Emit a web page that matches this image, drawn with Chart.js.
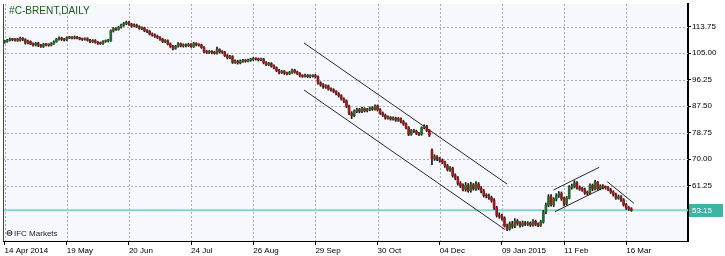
<!DOCTYPE html>
<html>
<head>
<meta charset="utf-8">
<script src="https://cdn.jsdelivr.net/npm/chart.js@4.4.0/dist/chart.umd.min.js"></script>
<style>
  html, body { margin: 0; padding: 0; background: #fff; }
  #wrap { width: 725px; height: 256px; }
</style>
</head>
<body>
<div id="wrap"><canvas id="chart" width="725" height="256"></canvas></div>
<script>
// Axis labels
const tickIdx = [0, 24, 48, 72, 96, 120, 144, 168, 192, 216, 240];
const tickText = ["14 Apr 2014", "19 May", "20 Jun", "24 Jul", "26 Aug", "29 Sep", "30 Oct", "04 Dec", "09 Jan 2015", "11 Feb", "16 Mar"];
const priceTicks = [61.25, 70, 78.75, 87.5, 96.25, 105, 113.75];
const lastPrice = 53.15;

// Daily candles (one per trading day, 14 Apr 2014 .. 18 Mar 2015)
const opens = [
    108.7, 108.9, 109.3, 109.6, 109.5, 109.4, 109.3, 109.9, 109.5, 108.4,
    108.9, 108.0, 107.7, 108.3, 107.6, 107.2, 107.9, 107.8, 107.7, 108.2,
    108.8, 109.6, 110.0, 109.6, 109.4, 110.1, 110.2, 110.0, 110.3, 110.0,
    109.7, 109.6, 109.8, 109.3, 108.8, 109.2, 108.6, 108.3, 108.2, 108.9,
    109.0, 109.2, 112.4, 113.1, 112.9, 113.6, 114.3, 114.8, 115.1, 114.6,
    114.0, 114.3, 113.8, 113.2, 113.3, 112.4, 112.2, 111.3, 111.0, 110.6,
    110.2, 109.6, 108.9, 109.1, 108.0, 107.3, 106.6, 107.3, 108.1, 107.4,
    107.7, 107.5, 107.9, 107.2, 108.2, 107.8, 107.7, 106.9, 105.6, 105.3,
    105.6, 105.2, 105.0, 106.2, 105.5, 105.3, 104.2, 103.5, 103.9, 102.0,
    102.4, 101.8, 102.4, 102.6, 102.4, 102.7, 102.9, 103.2, 103.1, 102.8,
    103.0, 101.9, 101.2, 101.6, 100.8, 100.2, 99.3, 98.6, 99.0, 98.4,
    98.2, 98.6, 99.4, 98.8, 98.3, 97.6, 97.4, 97.7, 97.3, 97.5,
    97.6, 97.2, 95.2, 94.6, 93.8, 94.2, 93.2, 92.9, 92.4, 91.6,
    91.0, 89.9, 89.2, 87.5, 85.2, 84.4, 85.9, 86.4, 85.8, 86.7,
    86.0, 86.4, 86.9, 86.5, 87.6, 86.3, 85.2, 84.5, 83.6, 83.8,
    83.3, 83.6, 82.9, 83.4, 82.4, 81.6, 80.4, 78.2, 79.4, 79.2,
    78.5, 78.2, 80.4, 80.9, 79.5, 73.0, 70.2, 70.8, 70.0, 69.6,
    69.0, 67.8, 66.6, 67.0, 64.6, 63.8, 62.0, 61.2, 60.0, 61.3,
    59.6, 61.5, 60.3, 61.8, 60.4, 59.5, 58.0, 57.9, 57.3, 56.4,
    54.0, 51.5, 51.2, 50.6, 48.0, 46.9, 48.7, 47.9, 49.6, 48.8,
    48.2, 49.0, 48.6, 48.9, 48.3, 49.5, 48.5, 48.2, 49.3, 52.6,
    54.8, 57.6, 55.0, 56.8, 58.0, 58.6, 57.0, 55.2, 57.2, 60.8,
    61.0, 62.2, 60.6, 60.2, 60.0, 58.9, 58.8, 61.4, 60.2, 62.4,
    60.3, 61.2, 60.7, 60.6, 60.0, 59.2, 58.3, 57.2, 57.6, 56.6,
    55.0, 54.0, 53.6
];
const highs = [
    109.3, 109.6, 110.0, 109.9, 109.8, 109.9, 110.3, 110.2, 109.8, 109.3,
    109.1, 108.4, 108.6, 108.6, 107.9, 108.3, 108.3, 108.1, 108.5, 109.1,
    109.9, 110.4, 110.3, 109.9, 110.4, 110.6, 110.5, 110.7, 110.6, 110.3,
    110.0, 110.1, 110.1, 109.6, 109.5, 109.5, 108.9, 108.7, 109.2, 109.4,
    109.6, 112.7, 113.5, 113.4, 113.9, 114.6, 115.2, 115.6, 115.5, 114.9,
    114.7, 114.6, 114.1, 113.7, 113.6, 112.8, 112.5, 111.7, 111.4, 111.0,
    110.5, 109.9, 109.5, 109.4, 108.4, 107.6, 107.6, 108.5, 108.4, 108.1,
    108.1, 108.3, 108.2, 108.6, 108.5, 108.1, 108.0, 107.2, 106.0, 105.9,
    105.9, 105.6, 107.0, 106.5, 105.9, 105.6, 104.6, 104.3, 104.2, 102.8,
    102.7, 102.8, 103.0, 102.9, 103.1, 103.3, 103.6, 103.5, 103.4, 103.4,
    103.3, 102.2, 102.0, 101.9, 101.2, 100.5, 99.7, 99.4, 99.3, 98.8,
    99.0, 99.8, 99.7, 99.1, 98.6, 97.9, 98.1, 98.0, 97.9, 97.9,
    98.0, 97.5, 95.6, 95.0, 94.6, 94.5, 93.6, 93.3, 92.7, 92.0,
    91.3, 90.3, 89.6, 87.9, 85.7, 86.3, 86.9, 86.8, 87.2, 87.0,
    86.8, 87.3, 87.3, 88.0, 87.9, 86.7, 85.6, 84.9, 84.3, 84.1,
    84.0, 83.9, 83.8, 83.7, 82.8, 82.0, 80.8, 79.8, 79.9, 79.6,
    78.9, 80.7, 81.4, 81.2, 79.8, 73.4, 71.5, 71.2, 70.6, 70.1,
    69.4, 68.3, 67.6, 67.4, 65.2, 64.3, 62.6, 61.9, 62.3, 62.0,
    62.4, 62.0, 62.6, 62.3, 61.0, 60.0, 58.6, 58.5, 57.8, 57.0,
    54.5, 52.3, 51.8, 51.0, 48.6, 49.3, 49.5, 50.4, 50.1, 49.4,
    49.6, 49.5, 49.4, 49.3, 50.1, 49.9, 49.0, 49.8, 53.1, 55.5,
    58.3, 58.3, 57.3, 58.6, 59.3, 59.2, 57.5, 57.7, 61.3, 61.8,
    62.9, 62.6, 61.2, 60.8, 60.5, 59.5, 61.9, 61.8, 63.0, 62.7,
    61.6, 61.6, 61.2, 61.0, 60.4, 59.6, 58.8, 58.2, 58.0, 57.0,
    55.4, 54.4, 54.0
];
const lows = [
    108.3, 108.6, 109.0, 109.1, 109.0, 108.9, 109.0, 109.1, 108.0, 108.1,
    107.8, 107.3, 107.4, 107.2, 106.9, 106.9, 107.4, 107.3, 107.4, 107.9,
    108.6, 109.3, 109.2, 109.0, 109.1, 109.8, 109.7, 109.7, 109.7, 109.4,
    109.2, 109.3, 109.0, 108.5, 108.5, 108.3, 107.9, 107.9, 107.9, 108.6,
    108.7, 108.9, 112.0, 112.5, 112.6, 113.3, 113.9, 114.4, 114.2, 113.6,
    113.7, 113.5, 112.9, 112.8, 112.1, 111.8, 111.0, 110.6, 110.2, 109.8,
    109.2, 108.5, 108.5, 107.7, 106.9, 106.1, 106.3, 107.0, 107.1, 107.0,
    107.1, 107.2, 106.9, 106.9, 107.4, 107.3, 106.6, 105.2, 104.9, 104.9,
    104.8, 104.7, 104.7, 105.1, 104.9, 103.9, 103.1, 103.2, 101.6, 101.6,
    101.4, 101.5, 102.0, 102.0, 102.1, 102.3, 102.6, 102.7, 102.4, 102.5,
    101.5, 100.9, 100.9, 100.4, 99.8, 98.9, 98.2, 98.3, 98.0, 97.8,
    97.9, 98.3, 98.4, 97.9, 97.2, 97.0, 97.1, 96.9, 96.9, 97.1,
    96.8, 94.8, 94.1, 93.4, 93.4, 92.8, 92.5, 92.0, 91.2, 90.5,
    89.5, 88.7, 87.0, 84.7, 83.4, 84.0, 85.4, 85.3, 85.4, 85.6,
    85.6, 86.0, 86.1, 86.2, 85.9, 84.8, 84.1, 83.2, 83.2, 82.9,
    82.9, 82.5, 82.5, 82.0, 81.2, 80.0, 77.8, 77.9, 78.8, 78.1,
    77.8, 77.9, 80.0, 79.1, 77.5, 68.2, 69.6, 69.5, 69.0, 68.5,
    67.3, 66.1, 66.0, 64.1, 63.2, 61.4, 60.6, 59.5, 59.4, 59.1,
    59.1, 59.8, 59.7, 59.9, 58.9, 57.5, 57.2, 56.7, 55.8, 53.4,
    50.9, 50.5, 49.9, 47.6, 46.4, 46.6, 47.2, 47.4, 48.2, 47.6,
    47.8, 48.1, 48.1, 47.8, 47.9, 48.0, 47.7, 47.8, 48.9, 52.0,
    54.3, 54.5, 54.3, 56.2, 57.4, 56.4, 54.6, 54.8, 56.9, 60.1,
    60.5, 60.1, 59.7, 59.4, 58.4, 58.2, 58.5, 59.6, 59.9, 59.8,
    59.9, 60.2, 60.1, 59.6, 58.7, 57.8, 56.7, 56.8, 56.1, 54.5,
    53.4, 53.1, 52.8
];
const closes = [
    108.9, 109.3, 109.6, 109.5, 109.4, 109.3, 109.9, 109.5, 108.4, 108.9,
    108.0, 107.7, 108.3, 107.6, 107.2, 107.9, 107.8, 107.7, 108.2, 108.8,
    109.6, 110.0, 109.6, 109.4, 110.1, 110.2, 110.0, 110.3, 110.0, 109.7,
    109.6, 109.8, 109.3, 108.8, 109.2, 108.6, 108.3, 108.2, 108.9, 109.0,
    109.2, 112.4, 113.1, 112.9, 113.6, 114.3, 114.8, 115.1, 114.6, 114.0,
    114.3, 113.8, 113.2, 113.3, 112.4, 112.2, 111.3, 111.0, 110.6, 110.2,
    109.6, 108.9, 109.1, 108.0, 107.3, 106.6, 107.3, 108.1, 107.4, 107.7,
    107.5, 107.9, 107.2, 108.2, 107.8, 107.7, 106.9, 105.6, 105.3, 105.6,
    105.2, 105.0, 106.2, 105.5, 105.3, 104.2, 103.5, 103.9, 102.0, 102.4,
    101.8, 102.4, 102.6, 102.4, 102.7, 102.9, 103.2, 103.1, 102.8, 103.0,
    101.9, 101.2, 101.6, 100.8, 100.2, 99.3, 98.6, 99.0, 98.4, 98.2,
    98.6, 99.4, 98.8, 98.3, 97.6, 97.4, 97.7, 97.3, 97.5, 97.6,
    97.2, 95.2, 94.6, 93.8, 94.2, 93.2, 92.9, 92.4, 91.6, 91.0,
    89.9, 89.2, 87.5, 85.2, 84.4, 85.9, 86.4, 85.8, 86.7, 86.0,
    86.4, 86.9, 86.5, 87.6, 86.3, 85.2, 84.5, 83.6, 83.8, 83.3,
    83.6, 82.9, 83.4, 82.4, 81.6, 80.4, 78.2, 79.4, 79.2, 78.5,
    78.2, 80.4, 80.9, 79.5, 78.0, 70.2, 70.8, 70.0, 69.6, 69.0,
    67.8, 66.6, 67.0, 64.6, 63.8, 62.0, 61.2, 60.0, 61.3, 59.6,
    61.5, 60.3, 61.8, 60.4, 59.5, 58.0, 57.9, 57.3, 56.4, 54.0,
    51.5, 51.2, 50.6, 48.0, 46.9, 48.7, 47.9, 49.6, 48.8, 48.2,
    49.0, 48.6, 48.9, 48.3, 49.5, 48.5, 48.2, 49.3, 52.6, 54.8,
    57.6, 55.0, 56.8, 58.0, 58.6, 57.0, 55.2, 57.2, 60.8, 61.0,
    62.2, 60.6, 60.2, 60.0, 58.9, 58.8, 61.4, 60.2, 62.4, 60.3,
    61.2, 60.7, 60.6, 60.0, 59.2, 58.3, 57.2, 57.6, 56.6, 55.0,
    54.0, 53.6, 53.15
];

// Trend lines: [bar index, price] at each end
const channelUpper = [[115.6, 108.37], [194.0, 61.81]];
const channelLower = [[115.6, 92.85], [193.2, 46.79]];
const risingUpper = [[211.9, 59.83], [229.6, 67.33]];
const risingLower = [[212.5, 52.67], [231.0, 60.49]];
const fallingLine = [[232.7, 62.57], [243.0, 55.44]];

const FONT = "'Liberation Sans', Arial, sans-serif";
Chart.defaults.font.family = FONT;
Chart.defaults.font.size = 8;
Chart.defaults.color = "#000";

const bodies = closes.map((c, i) => ({ x: i, y: [opens[i], c] }));
const wicks = closes.map((c, i) => ({ x: i, y: [lows[i], highs[i]] }));
const bodyColors = closes.map((c, i) => c >= opens[i] ? "#256b2b" : "#9a1a1a");

function trendLine(pts) {
    return {
        type: "line",
        data: pts.map(p => ({ x: p[0], y: p[1] })),
        borderColor: "#2a2a2a",
        borderWidth: 1,
        pointRadius: 0,
        fill: false
    };
}

// background, dotted grid, price line, price tag, title and logo
const decor = {
    id: "decor",
    beforeDraw(chart) {
        const { ctx, chartArea: a } = chart;
        ctx.save();
        ctx.fillStyle = "#fff";
        ctx.fillRect(0, 0, chart.width, chart.height);
        ctx.fillStyle = "#f7f8fd";
        ctx.fillRect(a.left, a.top, a.right - a.left, a.bottom - a.top);
        ctx.restore();
    },
    beforeDatasetsDraw(chart) {
        const { ctx, chartArea: a, scales } = chart;
        ctx.save();
        ctx.strokeStyle = "#acacac";
        ctx.lineWidth = 1;
        ctx.setLineDash([2, 2]);
        tickIdx.forEach(v => {
            const x = Math.round(scales.x.getPixelForValue(v)) + 0.5;
            ctx.beginPath();
            ctx.moveTo(x, a.top);
            ctx.lineTo(x, a.bottom);
            ctx.stroke();
        });
        priceTicks.forEach(v => {
            const y = Math.round(scales.y.getPixelForValue(v)) + 0.5;
            ctx.beginPath();
            ctx.moveTo(a.left, y);
            ctx.lineTo(a.right, y);
            ctx.stroke();
        });
        ctx.setLineDash([]);

        const py = scales.y.getPixelForValue(lastPrice);
        ctx.strokeStyle = "#86d5cb";
        ctx.lineWidth = 2;
        ctx.beginPath();
        ctx.moveTo(a.left, py);
        ctx.lineTo(a.right, py);
        ctx.stroke();
        ctx.restore();
    },
    afterDraw(chart) {
        const { ctx, chartArea: a } = chart;
        const y = Math.round(chart.scales.y.getPixelForValue(lastPrice));
        ctx.save();
        ctx.strokeStyle = "#444";
        ctx.lineWidth = 1;
        ctx.beginPath();
        ctx.moveTo(a.left + 0.5, a.top);
        ctx.lineTo(a.left + 0.5, a.bottom);
        ctx.stroke();

        ctx.fillStyle = "#3db5a5";
        ctx.fillRect(a.right + 1, y - 6, 34, 13);
        ctx.fillStyle = "#fff";
        ctx.font = "8px " + FONT;
        ctx.textBaseline = "middle";
        ctx.fillText(lastPrice.toFixed(2), a.right + 4, y + 1);

        ctx.fillStyle = "#1e5b1e";
        ctx.font = "11.5px " + FONT;
        ctx.textBaseline = "alphabetic";
        ctx.translate(9, 14);
        ctx.scale(0.88, 1);
        ctx.fillText("#C-BRENT,DAILY", 0, 0);
        ctx.setTransform(1, 0, 0, 1, 0, 0);

        ctx.strokeStyle = "#333";
        ctx.beginPath();
        ctx.arc(9.5, 233, 2.5, 0, Math.PI * 2);
        ctx.moveTo(7, 233);
        ctx.lineTo(12, 233);
        ctx.stroke();
        ctx.fillStyle = "#222";
        ctx.font = "8px " + FONT;
        ctx.fillText("IFC Markets", 14, 236);
        ctx.restore();
    }
};

new Chart(document.getElementById("chart"), {
    type: "bar",
    data: {
        datasets: [
            {
                data: bodies,
                backgroundColor: bodyColors,
                barThickness: 2,
                minBarLength: 1,
                borderWidth: 0,
                grouped: false
            },
            {
                data: wicks,
                backgroundColor: "#151515",
                barThickness: 1,
                borderWidth: 0,
                grouped: false
            },
            trendLine(channelUpper),
            trendLine(channelLower),
            trendLine(risingUpper),
            trendLine(risingLower),
            trendLine(fallingLine)
        ]
    },
    options: {
        responsive: false,
        animation: false,
        devicePixelRatio: 1,
        layout: { padding: { left: 3, top: 4, right: 0, bottom: 0 } },
        plugins: { legend: { display: false }, tooltip: { enabled: false } },
        scales: {
            x: {
                type: "linear",
                offset: false,
                min: -0.62,
                max: 263.86,
                afterBuildTicks: s => { s.ticks = tickIdx.map(v => ({ value: v })); },
                afterFit: s => { s.height = 15; s.paddingLeft = 0; s.paddingRight = 0; },
                ticks: {
                    autoSkip: false,
                    maxRotation: 0,
                    align: "start",
                    padding: 1,
                    callback: v => tickText[tickIdx.indexOf(v)] || ""
                },
                grid: { offset: false, drawOnChartArea: false, color: "#000", tickLength: 4 },
                border: { color: "#000", width: 1 }
            },
            y: {
                position: "right",
                min: 43.0,
                max: 121.25,
                afterBuildTicks: s => { s.ticks = priceTicks.map(v => ({ value: v })); },
                afterFit: s => { s.width = 37; s.paddingTop = 0; s.paddingBottom = 0; },
                ticks: { padding: 1, callback: v => v.toFixed(2) },
                grid: { drawOnChartArea: false, color: "#000", tickLength: 3 },
                border: { color: "#000", width: 2 }
            }
        }
    },
    plugins: [decor]
});
</script>
</body>
</html>
